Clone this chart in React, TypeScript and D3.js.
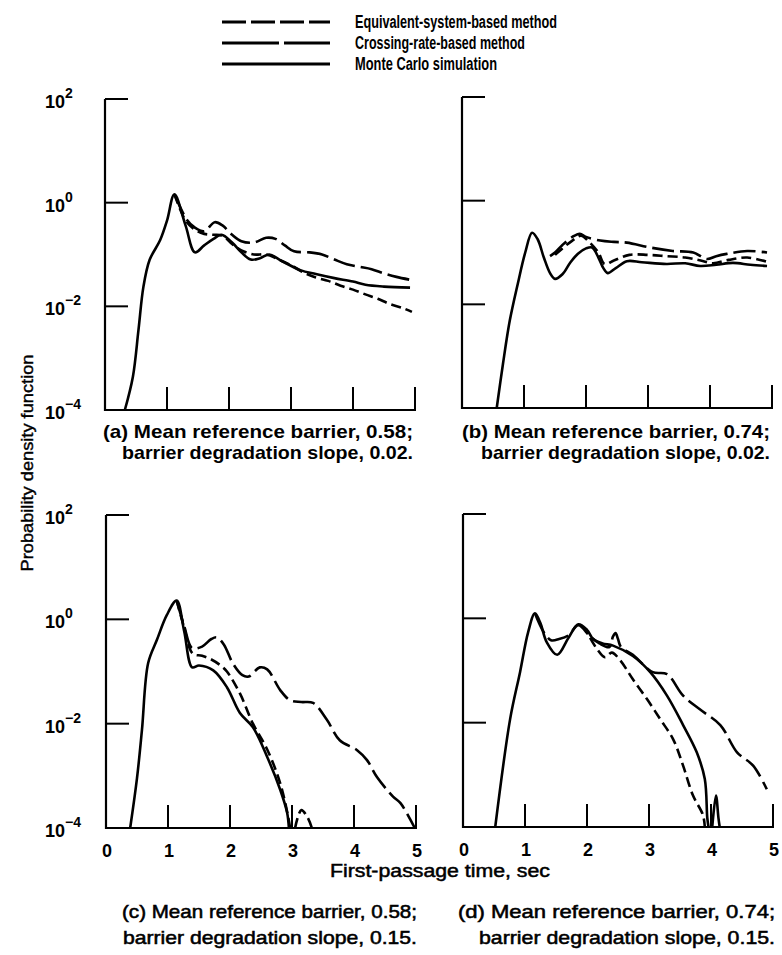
import React from 'react';
import * as d3 from 'd3';

type Pt = [number, number];

// ---------- tick values ----------
const xTickValues = [0, 1, 2, 3, 4, 5];
const yTickExponents = [2, 0, -2, -4];

// ---------- legend ----------
const legendLabels = [
  'Equivalent-system-based method',
  'Crossing-rate-based method',
  'Monte Carlo simulation',
];

// ---------- panel (a) ----------
const aMonteCarlo: Pt[] = [
  [0.32, 1e-4], [0.45, 4.4e-4], [0.54, 3.5e-3], [0.62, 0.024], [0.72, 0.079], [0.89, 0.19],
  [1.0, 0.45], [1.12, 1.45], [1.3, 0.36], [1.45, 0.11], [1.6, 0.15], [1.75, 0.2], [1.88, 0.24],
  [2.05, 0.17], [2.2, 0.11], [2.35, 0.08], [2.5, 0.085], [2.65, 0.1], [2.85, 0.075], [3.15, 0.05],
  [3.4, 0.042], [3.7, 0.035], [4.0, 0.03], [4.2, 0.026], [4.5, 0.024], [4.92, 0.023],
];
const aEquivalent: Pt[] = [
  [1.12, 1.45], [1.32, 0.47], [1.45, 0.33], [1.6, 0.28], [1.77, 0.42], [1.9, 0.36], [2.05, 0.24],
  [2.2, 0.18], [2.4, 0.17], [2.6, 0.21], [2.75, 0.2], [2.9, 0.15], [3.05, 0.115], [3.3, 0.11],
  [3.5, 0.1], [3.7, 0.08], [3.9, 0.065], [4.1, 0.058], [4.3, 0.052], [4.5, 0.043], [4.7, 0.037],
  [4.95, 0.032],
];
const aCrossing: Pt[] = [
  [1.12, 1.45], [1.3, 0.45], [1.45, 0.3], [1.6, 0.25], [1.75, 0.24], [1.9, 0.23], [2.05, 0.16],
  [2.2, 0.12], [2.4, 0.1], [2.6, 0.1], [2.8, 0.08], [3.0, 0.062], [3.2, 0.045], [3.4, 0.036],
  [3.6, 0.031], [3.8, 0.025], [4.0, 0.021], [4.2, 0.017], [4.4, 0.014], [4.6, 0.011], [4.8, 0.0093],
  [4.95, 0.0078],
];

// ---------- panel (b) ----------
const bMonteCarlo: Pt[] = [
  [0.56, 1e-4], [0.66, 7e-4], [0.77, 4.8e-3], [0.9, 0.025], [1.02, 0.1], [1.13, 0.24], [1.22, 0.18],
  [1.32, 0.08], [1.42, 0.04], [1.5, 0.031], [1.62, 0.038], [1.75, 0.065], [1.87, 0.095], [2.0, 0.12],
  [2.1, 0.125], [2.2, 0.08], [2.28, 0.05], [2.35, 0.04], [2.48, 0.05], [2.66, 0.068], [2.9, 0.065],
  [3.3, 0.06], [3.6, 0.062], [3.84, 0.055], [4.1, 0.058], [4.37, 0.063], [4.65, 0.058], [4.92, 0.055],
];
const bEquivalent: Pt[] = [
  [1.42, 0.085], [1.5, 0.1], [1.62, 0.14], [1.78, 0.2], [1.9, 0.23], [2.0, 0.2], [2.23, 0.17],
  [2.45, 0.16], [2.66, 0.155], [3.03, 0.125], [3.4, 0.107], [3.73, 0.1], [3.95, 0.075], [4.1, 0.085],
  [4.27, 0.094], [4.6, 0.107], [4.92, 0.1],
];
const bCrossing: Pt[] = [
  [1.5, 0.09], [1.62, 0.12], [1.78, 0.17], [1.92, 0.21], [2.05, 0.16], [2.2, 0.1], [2.3, 0.06],
  [2.45, 0.07], [2.7, 0.09], [3.0, 0.09], [3.3, 0.085], [3.6, 0.08], [3.85, 0.07], [4.05, 0.062],
  [4.3, 0.072], [4.6, 0.08], [4.92, 0.066],
];

// ---------- panel (c) ----------
const cMonteCarlo: Pt[] = [
  [0.39, 1e-4], [0.5, 9e-4], [0.58, 7.6e-3], [0.68, 0.145], [0.82, 0.4], [0.98, 1.2], [1.14, 2.3],
  [1.26, 0.6], [1.39, 0.12], [1.5, 0.13], [1.73, 0.105], [1.95, 0.05], [2.16, 0.016], [2.37, 0.0085],
  [2.6, 0.0023], [2.81, 5.4e-4], [2.92, 2e-4], [2.95, 1e-4],
];
const cEquivalent: Pt[] = [
  [1.14, 2.3], [1.26, 0.75], [1.39, 0.28], [1.55, 0.3], [1.7, 0.42], [1.79, 0.45], [1.9, 0.33],
  [2.05, 0.14], [2.2, 0.085], [2.3, 0.08], [2.48, 0.12], [2.6, 0.11], [2.81, 0.044], [2.97, 0.028],
  [3.15, 0.026], [3.34, 0.025], [3.56, 0.012], [3.77, 0.0048], [4.05, 0.0031], [4.21, 0.002],
  [4.37, 9.5e-4], [4.63, 4e-4], [4.75, 3e-4], [4.98, 1e-4],
];
const cCrossing: Pt[] = [
  [1.14, 2.3], [1.26, 0.7], [1.4, 0.22], [1.55, 0.2], [1.7, 0.17], [1.85, 0.13], [1.95, 0.1],
  [2.16, 0.038], [2.37, 0.01], [2.6, 0.0032], [2.81, 7.2e-4], [2.94, 1.6e-4], [2.97, 1e-4],
];
const cCrossingTail: Pt[] = [[3.05, 1e-4], [3.15, 2.2e-4], [3.25, 1.6e-4], [3.32, 1e-4]];

// ---------- panel (d) ----------
const dMonteCarlo: Pt[] = [
  [0.52, 1e-4], [0.76, 0.0117], [0.92, 0.093], [1.05, 0.54], [1.16, 1.25], [1.25, 0.8], [1.35, 0.35],
  [1.52, 0.2], [1.7, 0.42], [1.86, 0.77], [2.0, 0.6], [2.1, 0.4], [2.25, 0.33], [2.42, 0.3],
  [2.74, 0.19], [3.02, 0.093], [3.29, 0.033], [3.55, 0.009], [3.77, 0.0027], [3.9, 8.3e-4],
  [3.94, 1.5e-4], [3.96, 1e-4],
];
const dMonteCarloTail: Pt[] = [[4.02, 1e-4], [4.08, 4e-4], [4.12, 1.5e-4], [4.14, 1e-4]];
const dEquivalent: Pt[] = [
  [1.16, 1.25], [1.3, 0.55], [1.42, 0.38], [1.55, 0.4], [1.7, 0.47], [1.86, 0.74], [2.05, 0.45],
  [2.2, 0.33], [2.36, 0.28], [2.42, 0.45], [2.46, 0.52], [2.5, 0.4], [2.55, 0.28], [2.74, 0.2],
  [3.06, 0.093], [3.29, 0.085], [3.55, 0.033], [3.82, 0.018], [4.15, 0.009], [4.42, 0.0027],
  [4.68, 0.0015], [4.9, 5.3e-4],
];
const dCrossing: Pt[] = [
  [2.05, 0.42], [2.16, 0.26], [2.29, 0.18], [2.4, 0.22], [2.53, 0.16], [2.74, 0.068], [2.97, 0.028],
  [3.18, 0.0117], [3.39, 0.0048], [3.55, 0.0015], [3.71, 4e-4], [3.87, 1.7e-4], [3.9, 1e-4],
];

// ---------- captions ----------
const captionA = ['(a) Mean reference barrier, 0.58;', 'barrier degradation slope, 0.02.'];
const captionB = ['(b) Mean reference barrier, 0.74;', 'barrier degradation slope, 0.02.'];
const captionC = ['(c) Mean reference barrier, 0.58;', 'barrier degradation slope, 0.15.'];
const captionD = ['(d) Mean reference barrier, 0.74;', 'barrier degradation slope, 0.15.'];

const yAxisTitle = 'Probability density function';
const xAxisTitle = 'First-passage time, sec';

const FONT = '"Liberation Sans", Arial, Helvetica, sans-serif';
const EQ_DASH = '22,6';
const CR_DASH = '10,5';

type Panel = {
  x0: number; x1: number; yTop: number; yBot: number;
  showY: boolean; showX: boolean;
  mc: Pt[][]; eq: Pt[][]; cr: Pt[][];
};

const panels: Panel[] = [
  { x0: 105, x1: 415, yTop: 99, yBot: 410, showY: true, showX: false, mc: [aMonteCarlo], eq: [aEquivalent], cr: [aCrossing] },
  { x0: 462, x1: 772, yTop: 97, yBot: 408, showY: false, showX: false, mc: [bMonteCarlo], eq: [bEquivalent], cr: [bCrossing] },
  { x0: 106, x1: 416, yTop: 515, yBot: 828, showY: true, showX: true, mc: [cMonteCarlo], eq: [cEquivalent], cr: [cCrossing, cCrossingTail] },
  { x0: 463, x1: 773, yTop: 514, yBot: 827, showY: false, showX: true, mc: [dMonteCarlo, dMonteCarloTail], eq: [dEquivalent], cr: [dCrossing] },
];

function PanelView({ p }: { p: Panel }) {
  const x = d3.scaleLinear().domain([0, 5]).range([p.x0, p.x1]);
  const y = d3.scaleLog().domain([1e-4, 1e2]).range([p.yBot, p.yTop]);
  const line = d3
    .line<Pt>()
    .x((d) => x(d[0]))
    .y((d) => y(d[1]))
    .curve(d3.curveCatmullRom.alpha(0.5));
  const tickLen = 23;
  return (
    <g>
      <line x1={p.x0} x2={p.x0} y1={p.yTop} y2={p.yBot + 1} stroke="#000" strokeWidth={2.2} />
      <line x1={p.x0 - 1} x2={p.x1 + 1} y1={p.yBot} y2={p.yBot} stroke="#000" strokeWidth={2.2} />
      {yTickExponents.filter((e) => e > -4).map((e) => (
        <line key={'yt' + e} x1={p.x0} x2={p.x0 + tickLen} y1={y(Math.pow(10, e))} y2={y(Math.pow(10, e))} stroke="#000" strokeWidth={2} />
      ))}
      {xTickValues.filter((v) => v > 0).map((v) => (
        <line key={'xt' + v} x1={x(v)} x2={x(v)} y1={p.yBot} y2={p.yBot - tickLen} stroke="#000" strokeWidth={2} />
      ))}
      {p.showY &&
        yTickExponents.map((e) => {
          const yy = y(Math.pow(10, e));
          return (
            <text key={'yl' + e} x={45} y={yy + 9} fontFamily={FONT} fontWeight="bold" fontSize={18} fill="#000">
              10
              <tspan dy={-10} fontSize={14}>{e < 0 ? '\u2212' + Math.abs(e) : String(e)}</tspan>
            </text>
          );
        })}
      {p.showX &&
        xTickValues.map((v) => (
          <text key={'xl' + v} x={x(v) + 1} y={p.yBot + 29} textAnchor="middle" fontFamily={FONT} fontWeight="bold" fontSize={18} fill="#000">
            {v}
          </text>
        ))}
      {p.mc.map((s, i) => (
        <path key={'mc' + i} d={line(s) || ''} fill="none" stroke="#000" strokeWidth={2.6} strokeLinejoin="round" />
      ))}
      {p.eq.map((s, i) => (
        <path key={'eq' + i} d={line(s) || ''} fill="none" stroke="#000" strokeWidth={2.6} strokeDasharray={EQ_DASH} />
      ))}
      {p.cr.map((s, i) => (
        <path key={'cr' + i} d={line(s) || ''} fill="none" stroke="#000" strokeWidth={2.6} strokeDasharray={CR_DASH} />
      ))}
    </g>
  );
}

function Caption({ lines, xEnd, y, lens, bold }: { lines: string[]; xEnd: number; y: number[]; lens: number[]; bold: boolean }) {
  return (
    <g>
      {lines.map((t, i) => (
        <text
          key={i}
          x={xEnd - lens[i]}
          y={y[i]}
          fontFamily={FONT}
          fontWeight={bold ? 'bold' : 'normal'}
          fontSize={18.5}
          textLength={lens[i]}
          lengthAdjust="spacingAndGlyphs"
          fill="#000"
          stroke={bold ? 'none' : '#000'}
          strokeWidth={bold ? 0 : 0.55}
        >
          {t}
        </text>
      ))}
    </g>
  );
}

export default function App() {
  const legendY = [22, 43, 64];
  const legendDash = ['24,5', '57,5', undefined];
  const legendLens = [202, 170, 142];
  return (
    <svg
      width={782}
      height={955}
      viewBox="0 0 782 955"
      style={{ position: 'absolute', left: 0, top: 0, background: '#fff' }}
    >
      <rect x={0} y={0} width={782} height={955} fill="#fff" />
      {legendLabels.map((lab, i) => (
        <g key={lab}>
          <line x1={222} x2={330} y1={legendY[i]} y2={legendY[i]} stroke="#000" strokeWidth={3} strokeDasharray={legendDash[i]} />
          <text
            x={355}
            y={legendY[i] + 6}
            fontFamily={FONT}
            fontWeight="bold"
            fontSize={18}
            textLength={legendLens[i]}
            lengthAdjust="spacingAndGlyphs"
            fill="#000"
          >
            {lab}
          </text>
        </g>
      ))}
      {panels.map((p, i) => (
        <PanelView key={i} p={p} />
      ))}
      <Caption lines={captionA} xEnd={413} y={[438, 459]} lens={[310, 291]} bold={true} />
      <Caption lines={captionB} xEnd={770} y={[438, 459]} lens={[308, 289]} bold={true} />
      <Caption lines={captionC} xEnd={417} y={[918, 944]} lens={[295, 294]} bold={false} />
      <Caption lines={captionD} xEnd={775} y={[918, 944]} lens={[317, 296]} bold={false} />
      <text
        transform="translate(33,463) rotate(-90)"
        textAnchor="middle"
        fontFamily={FONT}
        fontSize={17}
        textLength={217}
        lengthAdjust="spacingAndGlyphs"
        fill="#000"
        stroke="#000"
        strokeWidth={0.4}
      >
        {yAxisTitle}
      </text>
      <text
        x={330}
        y={877}
        fontFamily={FONT}
        fontSize={18}
        textLength={220}
        lengthAdjust="spacingAndGlyphs"
        fill="#000"
        stroke="#000"
        strokeWidth={0.5}
      >
        {xAxisTitle}
      </text>
    </svg>
  );
}
